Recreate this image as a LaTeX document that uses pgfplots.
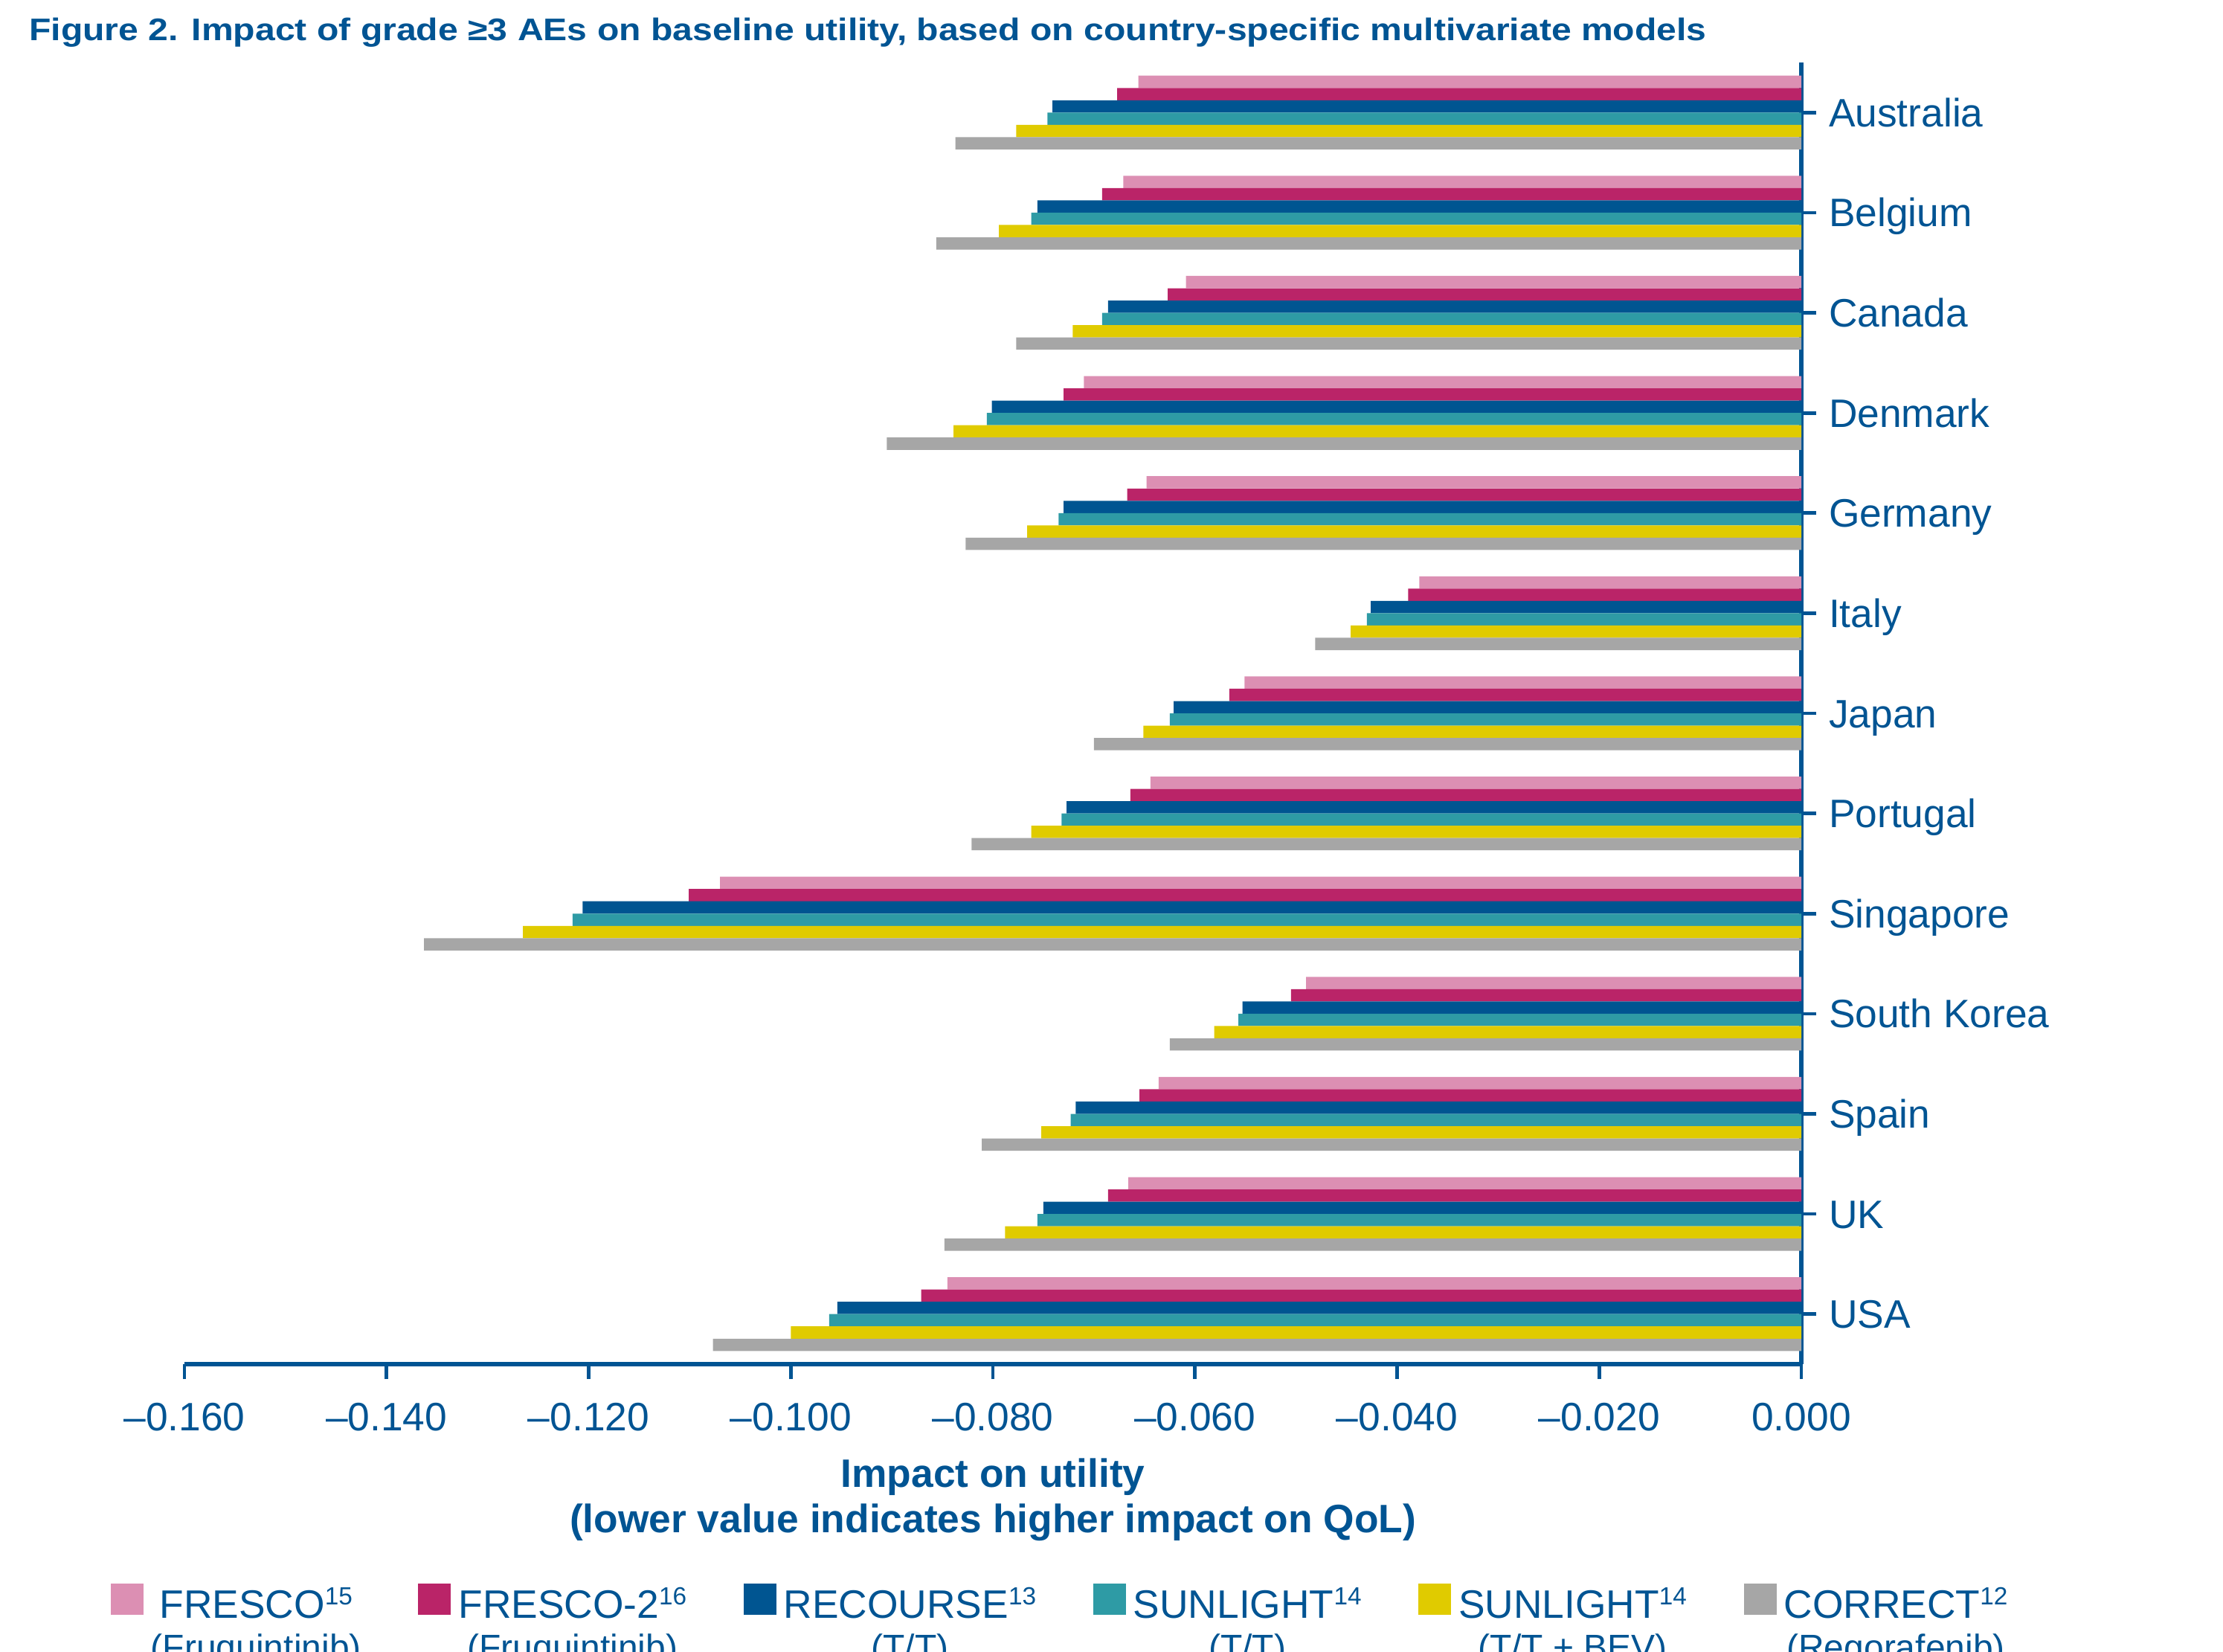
\documentclass[border=0pt]{standalone}
\usepackage{pgfplots}
\pgfplotsset{compat=1.18}
\usepackage{pgfplotstable}
\usepackage{fontspec}
\setmainfont{Liberation Sans}
\newfontfamily\titlefont{Liberation Sans}[FakeStretch=1.146]
\definecolor{txt}{RGB}{0,84,147}
\definecolor{cpink}{RGB}{220,143,179}
\definecolor{cmag}{RGB}{186,36,104}
\definecolor{cblue}{RGB}{0,85,145}
\definecolor{cteal}{RGB}{46,155,165}
\definecolor{cyel}{RGB}{224,203,0}
\definecolor{cgray}{RGB}{166,166,166}
\newcommand{\sups}[1]{\raisebox{2.6pt}{\fontsize{5}{5}\selectfont #1}}
\newcommand{\lent}[2]{\begin{tabular}[t]{@{}c@{}}#1\\[-0.75pt]{\fontsize{7.2}{8.4}\selectfont #2}\end{tabular}}

% pos: 12 = Australia (top) ... 0 = USA (bottom)
\pgfplotstableread{
pos fresco fresco2 recourse sunTT sunBEV correct
12 -0.0656 -0.0677 -0.0741 -0.0746 -0.0777 -0.0837
11 -0.0671 -0.0692 -0.0756 -0.0762 -0.0794 -0.0856
10 -0.0609 -0.0627 -0.0686 -0.0692 -0.0721 -0.0777
9  -0.0710 -0.0730 -0.0801 -0.0806 -0.0839 -0.0905
8  -0.0648 -0.0667 -0.0730 -0.0735 -0.0766 -0.0827
7  -0.0378 -0.0389 -0.0426 -0.0430 -0.0446 -0.0481
6  -0.0551 -0.0566 -0.0621 -0.0625 -0.0651 -0.0700
5  -0.0644 -0.0664 -0.0727 -0.0732 -0.0762 -0.0821
4  -0.1070 -0.1101 -0.1206 -0.1216 -0.1265 -0.1363
3  -0.0490 -0.0505 -0.0553 -0.0557 -0.0581 -0.0625
2  -0.0636 -0.0655 -0.0718 -0.0723 -0.0752 -0.0811
1  -0.0666 -0.0686 -0.0750 -0.0756 -0.0788 -0.0848
0  -0.0845 -0.0871 -0.0954 -0.0962 -0.1000 -0.1077
}\datatable

\begin{document}
\begin{tikzpicture}
\begin{axis}[
  at={(0pt,0pt)}, anchor=south west,
  width=326.1pt, height=262.5pt, scale only axis,
  xmin=-0.16, xmax=0, ymin=-0.5, ymax=12.5,
  axis x line*=bottom, axis y line*=right,
  axis line style={txt, line width=0.8pt},
  every tick/.style={txt, line width=0.7pt},
  tick align=outside, major tick length=3pt,
  xtick={-0.16,-0.14,-0.12,-0.1,-0.08,-0.06,-0.04,-0.02,0},
  xticklabels={–0.160,–0.140,–0.120,–0.100,–0.080,–0.060,–0.040,–0.020,0.000},
  ytick={0,1,2,3,4,5,6,7,8,9,10,11,12},
  yticklabels={USA,UK,Spain,South Korea,Singapore,Portugal,Japan,Italy,Germany,Denmark,Canada,Belgium,Australia},
  tick label style={text=txt, font=\fontsize{8.0}{9.6}\selectfont, inner sep=0pt},
  xticklabel style={anchor=base, yshift=-10.35pt},
  yticklabel style={anchor=base west, xshift=2.35pt, yshift=-2.85pt},
  xlabel={\begin{tabular}[t]{@{}c@{}}Impact on utility\\(lower value indicates higher impact on QoL)\end{tabular}},
  xlabel style={at={(axis description cs:0.5,-0.0943)}, anchor=base, inner sep=0pt,
    text=txt, font=\bfseries\fontsize{8.0}{9.15}\selectfont},
  xbar, bar width=0.1228,
  legend columns=6,
  legend image code/.code={\path[#1] (0pt,0.6pt) rectangle (6.6pt,6.9pt);},
  legend style={at={(axis description cs:-0.04554,-0.1686)}, anchor=north west,
    draw=none, fill=none, inner sep=0pt, outer sep=0pt,
    nodes={inner sep=0pt, text=txt, font=\fontsize{8.0}{9.15}\selectfont},
    cells={anchor=base west},
    /tikz/every odd column/.append style={column sep=1.5pt},
    /tikz/every even column/.append style={column sep=11.5pt}},
]
\addplot[fill=cpink, draw=none, bar shift=0.307] table[x=fresco, y=pos] {\datatable};
\addlegendentry{\lent{FRESCO\sups{15}}{(Fruquintinib)}}
\addplot[fill=cmag, draw=none, bar shift=0.184] table[x=fresco2, y=pos] {\datatable};
\addlegendentry{\lent{FRESCO-2\sups{16}}{(Fruquintinib)}}
\addplot[fill=cblue, draw=none, bar shift=0.0614] table[x=recourse, y=pos] {\datatable};
\addlegendentry{\lent{RECOURSE\sups{13}}{(T/T)}}
\addplot[fill=cteal, draw=none, bar shift=-0.0614] table[x=sunTT, y=pos] {\datatable};
\addlegendentry{\lent{SUNLIGHT\sups{14}}{(T/T)}}
\addplot[fill=cyel, draw=none, bar shift=-0.184] table[x=sunBEV, y=pos] {\datatable};
\addlegendentry{\lent{SUNLIGHT\sups{14}}{(T/T + BEV)}}
\addplot[fill=cgray, draw=none, bar shift=-0.307] table[x=correct, y=pos] {\datatable};
\addlegendentry{\lent{CORRECT\sups{12}}{(Regorafenib)}}
\end{axis}
\node[anchor=base west, inner sep=0pt, text=txt, font=\titlefont\bfseries\fontsize{6.3}{7.5}\selectfont]
  at (-31.5pt,267.0pt) {Figure 2. Impact of grade ≥3 AEs on baseline utility, based on country-specific multivariate models};
\pgfresetboundingbox
\path[use as bounding box] (-37.2pt,-57.9pt) rectangle (411.15pt,275.1pt);
\end{tikzpicture}
\end{document}
